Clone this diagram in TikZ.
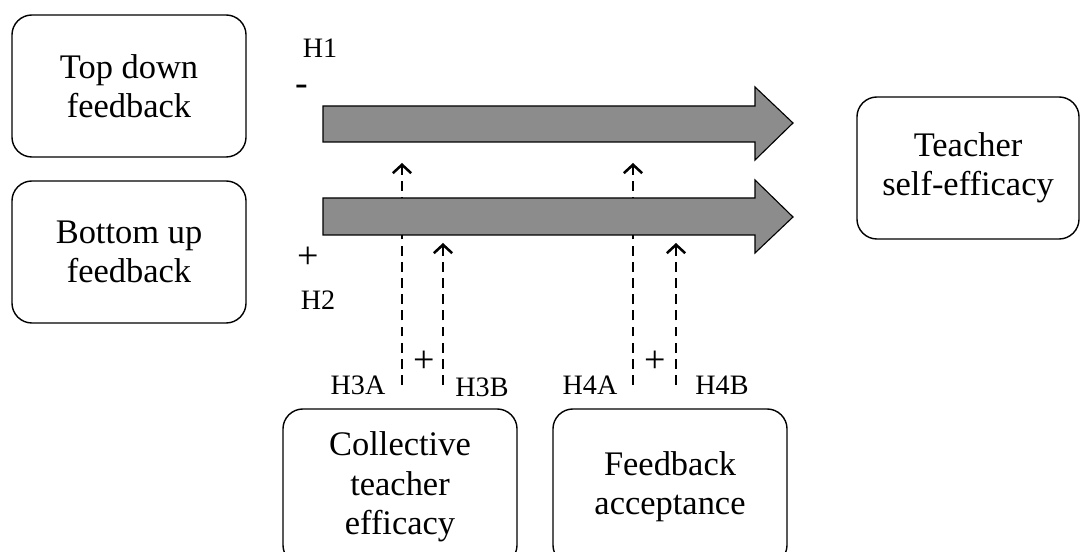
\documentclass[tikz,border=0pt]{standalone}
\usepackage{fontspec}
\setmainfont{Liberation Serif}
\usetikzlibrary{arrows.meta,positioning}

\begin{document}
\begin{tikzpicture}[x=0.025cm,y=0.025cm,
   box/.style={draw,line width=1pt,rounded corners=0.5cm,minimum width=5.85cm,
     minimum height=3.55cm,align=center,font=\fontsize{24.5}{28}\selectfont},
   lab/.style={inner sep=0pt,font=\fontsize{20}{24}\selectfont},
   sign/.style={inner sep=0pt,font=\fontsize{27}{27}\selectfont},
   bigarrow/.style={draw,line width=0.8pt,fill=black!45},
   moderator/.style={dashed,dash pattern=on 7pt off 4.5pt,line width=2pt,
     -{Straight Barb[length=6pt,width=13pt,line width=1.8pt]}}]
   \useasboundingbox (0,0) rectangle (1080,552);
   \node[box] (td)  at (129,466) {Top down\\feedback};
   \node[box] (bu)  at (129,300) {Bottom up\\feedback};
   \node[box,minimum width=5.55cm] (tse) at (968,384) {Teacher\\self-efficacy};
   \node[box,minimum height=3.9cm] (cte) at (400,65) {Collective\\teacher\\efficacy};
   \node[box,minimum height=3.9cm] (fa)  at (670,65) {Feedback\\acceptance};
   % moderating paths
   \coordinate (h3a) at (402,167);  \coordinate (h3aend) at (402,389);
   \coordinate (h3b) at (443,167);  \coordinate (h3bend) at (443,309);
   \coordinate (h4a) at (633,167);  \coordinate (h4aend) at (633,389);
   \coordinate (h4b) at (676,167);  \coordinate (h4bend) at (676,309);
   \draw[moderator] (h3a) -- (h3aend);
   \draw[moderator] (h3b) -- (h3bend);
   \draw[moderator] (h4a) -- (h4aend);
   \draw[moderator] (h4b) -- (h4bend);
   % direct paths
   \draw[bigarrow] (323,410) -- (755,410) -- (755,392) -- (793,429)
      -- (755,465) -- (755,446) -- (323,446) -- cycle;
   \draw[bigarrow] (323,317) -- (755,317) -- (755,299) -- (793,335)
      -- (755,372) -- (755,354) -- (323,354) -- cycle;
   \node[lab] (h1)  at (320,504) {H1};
   \node[sign] (neg) at (302,462) {-};
   \node[sign] (pos) at (308,294) {+};
   \node[lab] (h2)  at (318,252) {H2};
   \node[lab] (l3a) at (358,167) {H3A};
   \node[sign] (p3) at (424,190) {+};
   \node[lab] (l3b) at (482,165) {H3B};
   \node[lab] (l4a) at (590,167) {H4A};
   \node[sign] (p4) at (655,190) {+};
   \node[lab] (l4b) at (722,167) {H4B};
\end{tikzpicture}
\end{document}
